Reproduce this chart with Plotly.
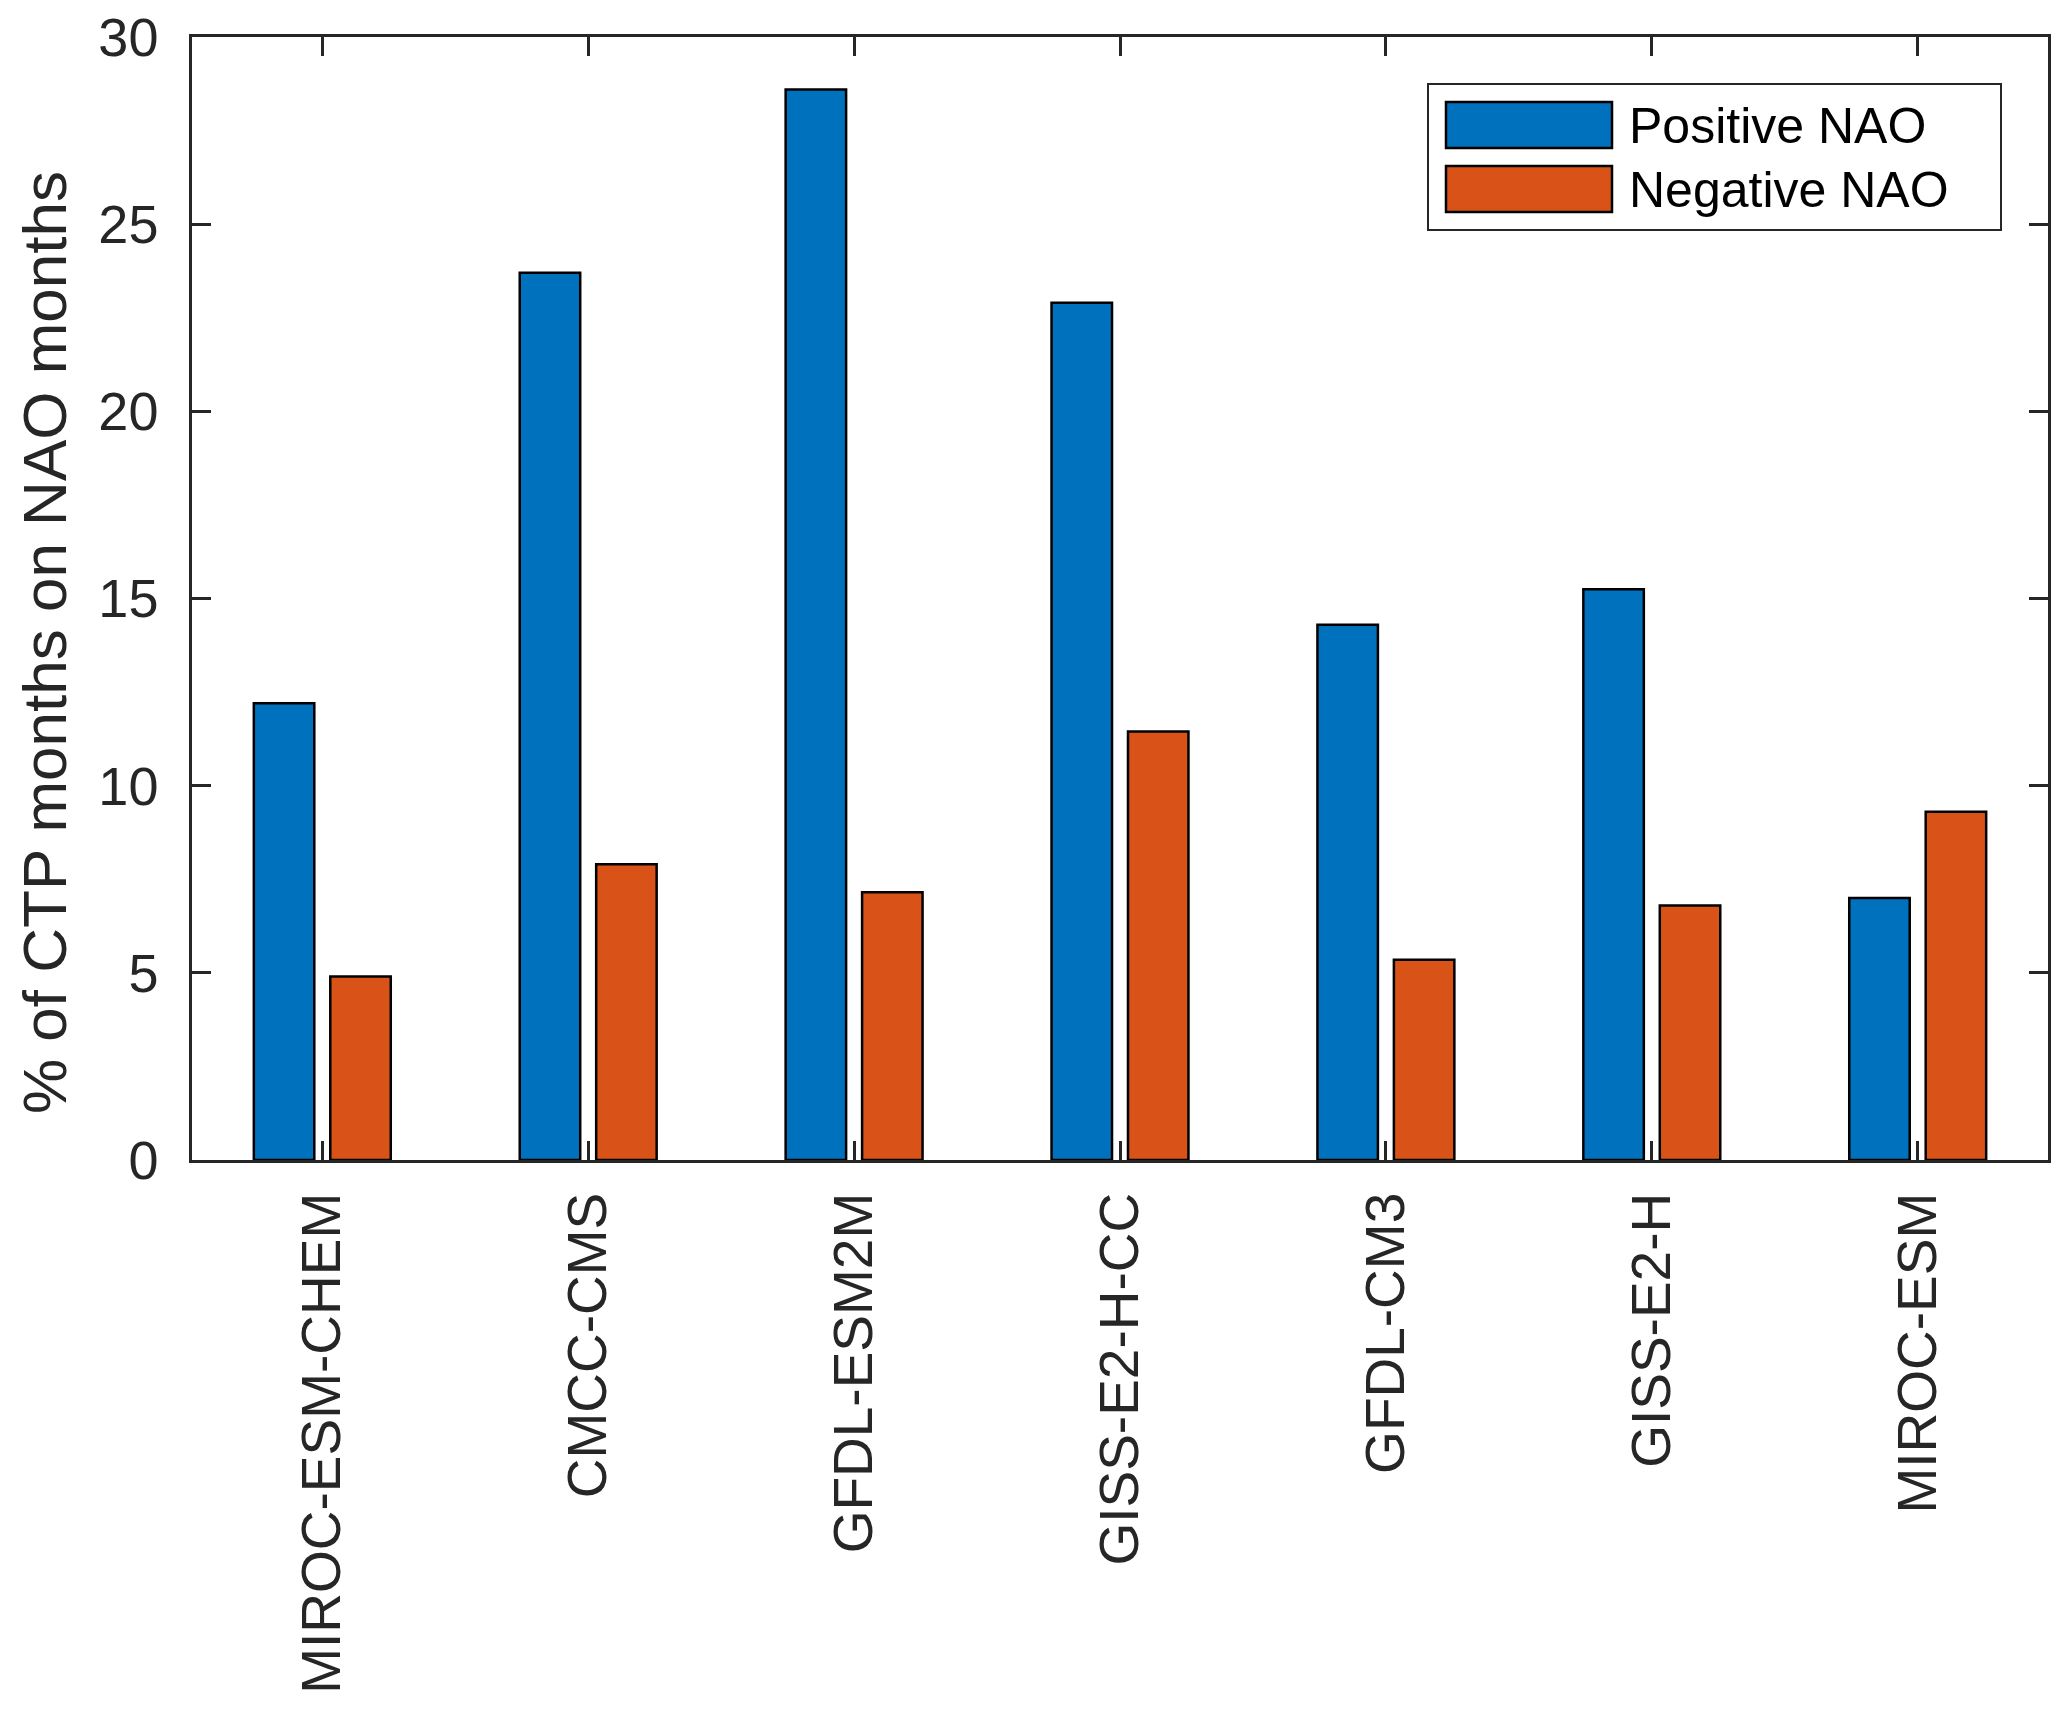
import plotly.graph_objects as go

models = ["MIROC-ESM-CHEM", "CMCC-CMS", "GFDL-ESM2M", "GISS-E2-H-CC",
          "GFDL-CM3", "GISS-E2-H", "MIROC-ESM"]
positive_nao = [12.2, 23.7, 28.6, 22.9, 14.3, 15.25, 7.0]
negative_nao = [4.9, 7.9, 7.15, 11.45, 5.35, 6.8, 9.3]
series_names = ["Positive NAO", "Negative NAO"]
y_ticks = [0, 5, 10, 15, 20, 25, 30]

BLUE = "#0072BD"
ORANGE = "#D95319"
AX = "#262626"
FONT = "Liberation Sans, Arial, Helvetica, sans-serif"

OFF = 8  # page body margin offset
W, H = 2067 - OFF, 1714 - OFF
# plot-area edges in page pixels
L, R, T, B = 192, 2048, 37, 1160


def px(x):
    return (x - L) / (R - L)


def py(y):
    return (B - y) / (B - T)


fig = go.Figure()
fig.add_trace(go.Bar(x=models, y=positive_nao, name=series_names[0],
                     marker=dict(color=BLUE, line=dict(color="black", width=2.5)),
                     showlegend=False))
fig.add_trace(go.Bar(x=models, y=negative_nao, name=series_names[1],
                     marker=dict(color=ORANGE, line=dict(color="black", width=2.5)),
                     showlegend=False))

axis_common = dict(showline=True, linecolor=AX, linewidth=2.5, mirror="ticks",
                   ticks="inside", ticklen=19, tickwidth=2.5, tickcolor=AX,
                   showgrid=False, zeroline=False, ticklabeloverflow="allow",
                   tickfont=dict(family=FONT, size=54, color=AX))

fig.update_layout(
    width=W, height=H,
    margin=dict(l=L - OFF, r=W - (R - OFF), t=T - OFF, b=H - (B - OFF),
                autoexpand=False),
    plot_bgcolor="white", paper_bgcolor="white",
    barmode="group", bargap=0.425, bargroupgap=0.209,
    xaxis=dict(**axis_common, type="category", range=[-0.49, 6.49],
               tickangle=-90, ticklabelstandoff=8),
    yaxis=dict(**axis_common, range=[0, 30], tickvals=y_ticks,
               ticklabelstandoff=20),
    font=dict(family=FONT),
)

fig.update_xaxes(tickfont=dict(family=FONT, size=55, color=AX))

# y-axis title
fig.add_annotation(xref="paper", yref="paper", x=px(44), y=py(643),
                   text="% of CTP months on NAO months", textangle=-90,
                   showarrow=False, xanchor="center", yanchor="middle",
                   font=dict(family=FONT, size=62, color=AX))

# custom legend
fig.add_shape(type="rect", xref="paper", yref="paper",
              x0=px(1428), x1=px(2001), y0=py(230), y1=py(84),
              line=dict(color=AX, width=2), fillcolor="white", layer="above")
for i, (name, col) in enumerate(zip(series_names, [BLUE, ORANGE])):
    top = 102 + i * 64
    fig.add_shape(type="rect", xref="paper", yref="paper",
                  x0=px(1446), x1=px(1612), y0=py(top + 46), y1=py(top),
                  line=dict(color="black", width=2.5), fillcolor=col, layer="above")
    fig.add_annotation(xref="paper", yref="paper", x=px(1627), y=py(top + 24),
                       text=name, showarrow=False, xanchor="left", yanchor="middle",
                       font=dict(family=FONT, size=50, color="black"))

fig.write_html("out.html")
